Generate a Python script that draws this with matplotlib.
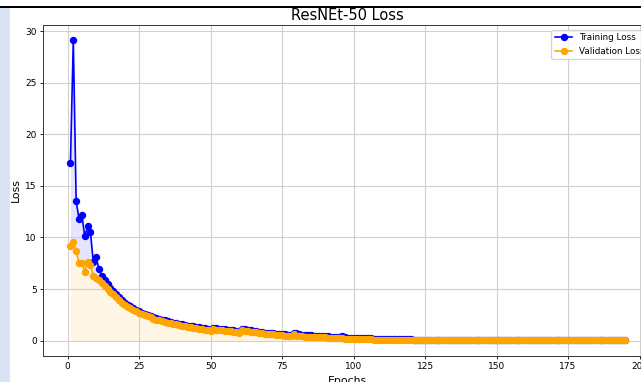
import matplotlib
matplotlib.use("Agg")
import matplotlib.pyplot as plt
from matplotlib.patches import Rectangle

# Per-epoch loss values for a ResNet-50 training run
train_loss = [
    17.2, 29.1, 13.5, 11.8, 12.2, 10.1, 11.1, 10.5, 7.6, 8.1,
    6.9, 6.3, 5.9, 5.5, 5.1, 4.8, 4.5, 4.2, 3.95, 3.7,
    3.48, 3.32, 3.16, 3.0, 2.84, 2.72, 2.6, 2.49, 2.39, 2.29,
    2.19, 2.1, 2.03, 1.96, 1.89, 1.82, 1.76, 1.7, 1.64, 1.58,
    1.52, 1.47, 1.42, 1.38, 1.33, 1.29, 1.24, 1.19, 1.13, 1.06,
    1.25, 1.19, 1.14, 1.11, 1.09, 1.07, 1.04, 0.99, 0.92, 0.89,
    1.12, 1.09, 1.03, 0.99, 0.95, 0.91, 0.86, 0.82, 0.79, 0.76,
    0.73, 0.71, 0.68, 0.66, 0.63, 0.61, 0.58, 0.56, 0.7, 0.72,
    0.6, 0.55, 0.53, 0.52, 0.51, 0.5, 0.49, 0.48, 0.46, 0.44,
    0.42, 0.4, 0.38, 0.36, 0.34, 0.45, 0.32, 0.3, 0.28, 0.27,
    0.26, 0.25, 0.24, 0.24, 0.23, 0.23, 0.2, 0.19, 0.18, 0.18,
    0.17, 0.17, 0.16, 0.16, 0.15, 0.15, 0.14, 0.14, 0.13, 0.13,
    0.06, 0.06, 0.055, 0.055, 0.055, 0.05, 0.05, 0.05, 0.05, 0.05,
    0.05, 0.05, 0.045, 0.045, 0.045, 0.045, 0.045, 0.045, 0.045, 0.045,
    0.045, 0.045, 0.04, 0.04, 0.04, 0.04, 0.04, 0.04, 0.04, 0.04,
    0.04, 0.04, 0.04, 0.04, 0.04, 0.04, 0.035, 0.035, 0.035, 0.035,
    0.035, 0.035, 0.035, 0.035, 0.035, 0.035, 0.035, 0.035, 0.035, 0.035,
    0.03, 0.03, 0.03, 0.03, 0.03, 0.03, 0.03, 0.03, 0.03, 0.03,
    0.03, 0.03, 0.03, 0.03, 0.03, 0.03, 0.03, 0.03, 0.03, 0.03,
    0.03, 0.03, 0.03, 0.03, 0.03,
]

val_loss = [
    9.2, 9.6, 8.7, 7.5, 7.5, 6.7, 7.6, 7.3, 6.3, 6.1,
    5.85, 5.6, 5.3, 5.0, 4.75, 4.5, 4.25, 3.95, 3.7, 3.5,
    3.3, 3.15, 3.0, 2.85, 2.68, 2.57, 2.45, 2.35, 2.25, 2.15,
    2.05, 1.97, 1.9, 1.83, 1.76, 1.7, 1.64, 1.58, 1.52, 1.46,
    1.4, 1.36, 1.31, 1.27, 1.22, 1.18, 1.13, 1.08, 1.02, 0.95,
    1.15, 1.08, 1.03, 1.0, 0.98, 0.96, 0.93, 0.88, 0.8, 0.78,
    1.02, 0.98, 0.92, 0.88, 0.84, 0.8, 0.75, 0.7, 0.68, 0.65,
    0.62, 0.6, 0.57, 0.55, 0.52, 0.5, 0.47, 0.45, 0.6, 0.5,
    0.43, 0.41, 0.4, 0.39, 0.38, 0.37, 0.36, 0.35, 0.34, 0.32,
    0.3, 0.28, 0.26, 0.24, 0.22, 0.3, 0.2, 0.18, 0.17, 0.16,
    0.15, 0.15, 0.14, 0.14, 0.13, 0.13, 0.1, 0.1, 0.09, 0.09,
    0.09, 0.08, 0.08, 0.08, 0.08, 0.07, 0.07, 0.07, 0.07, 0.06,
    0.04, 0.04, 0.04, 0.04, 0.04, 0.04, 0.04, 0.04, 0.04, 0.04,
    0.04, 0.04, 0.04, 0.04, 0.04, 0.035, 0.035, 0.035, 0.035, 0.035,
    0.035, 0.035, 0.035, 0.035, 0.035, 0.03, 0.03, 0.03, 0.03, 0.03,
    0.03, 0.03, 0.03, 0.03, 0.03, 0.03, 0.03, 0.03, 0.03, 0.03,
    0.025, 0.025, 0.025, 0.025, 0.025, 0.025, 0.025, 0.025, 0.025, 0.025,
    0.025, 0.025, 0.025, 0.025, 0.025, 0.02, 0.02, 0.02, 0.02, 0.02,
    0.02, 0.02, 0.02, 0.02, 0.02, 0.02, 0.02, 0.02, 0.02, 0.02,
    0.02, 0.02, 0.02, 0.02, 0.02,
]

epochs = list(range(1, len(train_loss) + 1))

title = "ResNEt-50 Loss"
x_label = "Epochs"
y_label = "Loss"
train_label = "Training Loss"
val_label = "Validation Loss"

fig = plt.figure(figsize=(6.41, 3.82), dpi=100)
fig.patch.set_facecolor("white")

# page frame: thin dark rule along the top, pale side band on the left
fig.patches.append(Rectangle((0, 1 - 7.8 / 382), 1, 2.0 / 382, transform=fig.transFigure,
                             facecolor="black", edgecolor="none", zorder=0))
fig.patches.append(Rectangle((0, 0), 10 / 641, 1 - 7.8 / 382, transform=fig.transFigure,
                             facecolor="#dae3f3", edgecolor="none", zorder=0))

ax = fig.add_axes([42.7 / 641, 26.3 / 382, 610.3 / 641, 330.3 / 382])

# shaded gap between the two curves, and area under the validation curve
ax.fill_between(epochs, train_loss, val_loss, color="blue", alpha=0.1, linewidth=0)
ax.fill_between(epochs, val_loss, color="orange", alpha=0.1, linewidth=0)
ax.plot(epochs, train_loss, color="blue", marker="o", markersize=4.3,
        linewidth=1.2, label=train_label, zorder=3)
ax.plot(epochs, val_loss, color="orange", marker="o", markersize=4.3,
        linewidth=1.2, label=val_label, zorder=4)

ax.set_title(title, fontsize=10.5, pad=4)
ax.set_xlabel(x_label, fontsize=7.8, labelpad=4)
ax.set_ylabel(y_label, fontsize=7.8, labelpad=3)
ax.set_xticks([0, 25, 50, 75, 100, 125, 150, 175, 200])
ax.set_yticks([0, 5, 10, 15, 20, 25, 30])
ax.tick_params(labelsize=6.5, length=2.3, width=0.6, pad=2)
ax.grid(True, color="#d0d0d0", linewidth=0.8)
for s in ax.spines.values():
    s.set_linewidth(0.7)
    s.set_color("#333333")

ax.legend(loc="upper right", fontsize=6.3, framealpha=0.8, borderpad=0.4,
          handlelength=2.0, labelspacing=0.5)

fig.savefig("out.png", dpi=100)
